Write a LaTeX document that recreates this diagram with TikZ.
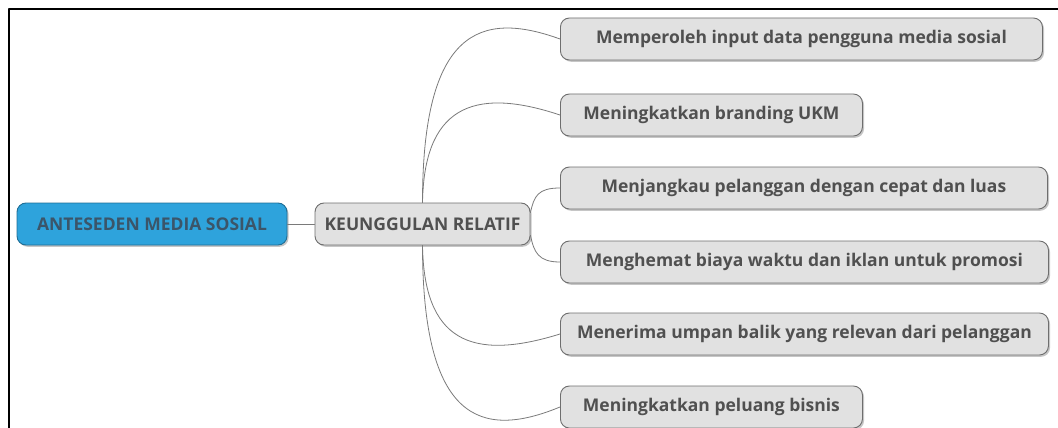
\documentclass[tikz,border=0pt]{standalone}
\usepackage{fontspec}
\setmainfont{Open Sans}
\usepackage{xcolor}
\usetikzlibrary{calc,shadows}
\definecolor{rootblue}{HTML}{2EA3DC}
\definecolor{rootedge}{HTML}{1F6E96}
\definecolor{roottext}{HTML}{3B5569}
\definecolor{boxfill}{HTML}{E1E1E1}
\definecolor{boxedge}{HTML}{6E6E6E}
\definecolor{boxtext}{HTML}{505050}
\definecolor{linkgray}{HTML}{7A7A7A}
\tikzset{
  topic/.style={rounded corners=9pt, draw=boxedge, line width=0.9pt, fill=boxfill,
    text=boxtext, minimum height=42pt, inner sep=2pt,
    font=\bfseries\fontsize{17.5}{20}\selectfont,
    drop shadow={shadow xshift=1.6pt, shadow yshift=-1.8pt, opacity=0.45}},
  rootbox/.style={topic, fill=rootblue, draw=rootedge, text=roottext},
  link/.style={draw=linkgray, line width=0.8pt},
  every picture/.style={line cap=round, line join=round}
}
\begin{document}
\begin{tikzpicture}[x=1pt, y=-1pt]
  \useasboundingbox (0,0) rectangle (1058,428);
  \draw[line width=2pt] (8.5,428) -- (8.5,9) -- (1058,9);

  \node[rootbox, minimum width=270pt] (root) at (152,224) {ANTESEDEN MEDIA SOSIAL};
  \node[topic, minimum width=215pt] (kr) at (422.5,224) {KEUNGGULAN RELATIF};

  \node[topic, anchor=west, minimum width=482pt] (c1) at (560,39) {Memperoleh input data pengguna media sosial};
  \node[topic, anchor=west, minimum width=302pt] (c2) at (560,115) {Meningkatkan branding UKM};
  \node[topic, anchor=west, minimum width=487pt] (c3) at (560,188) {Menjangkau pelanggan dengan cepat dan luas};
  \node[topic, anchor=west, minimum width=488pt] (c4) at (560,262) {Menghemat biaya waktu dan iklan untuk promosi};
  \node[topic, anchor=west, minimum width=488pt] (c5) at (560,334) {Menerima umpan balik yang relevan dari pelanggan};
  \node[topic, anchor=west, minimum width=302pt] (c6) at (560,407) {Meningkatkan peluang bisnis};

  \draw[link] (root) -- (kr);

  \draw[link] (kr.north) .. controls (422.5,30) and (480,10) .. (c1.west);
  \draw[link] (kr.north) .. controls (424,110) and (470,85) .. (c2.west);
  \draw[link] (kr.6) .. controls (534,196) and (538,188) .. (c3.west);
  \draw[link] (kr.-6) .. controls (534,252) and (538,262) .. (c4.west);
  \draw[link] (kr.south) .. controls (424,340) and (470,362) .. (c5.west);
  \draw[link] (kr.south) .. controls (422.5,420) and (480,440) .. (c6.west);
\end{tikzpicture}
\end{document}
